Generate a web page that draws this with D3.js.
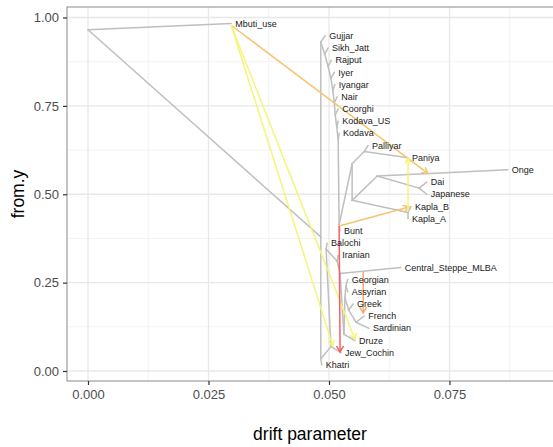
<!DOCTYPE html>
<html>
<head>
  <meta charset="UTF-8">
  <style>
    body { margin: 0; background: #fff; }
    svg { font-family: "Liberation Sans", Arial, sans-serif; }
  </style>
</head>
<body>
<svg></svg>
<script src="https://d3js.org/d3.v7.min.js"></script>
<script>

let width = 553, height = 447;

// tips, top to bottom, with their drift (x)
const tips = ["Mbuti_use", "Gujjar", "Sikh_Jatt", "Rajput", "Iyer", "Iyangar", "Nair", "Coorghi",
  "Kodava_US", "Kodava", "Palliyar", "Paniya", "Onge", "Dai", "Japanese", "Kapla_B", "Kapla_A",
  "Bunt", "Balochi", "Iranian", "Central_Steppe_MLBA", "Georgian", "Assyrian", "Greek", "French",
  "Sardinian", "Druze", "Jew_Cochin", "Khatri"];
const tipDrift = [0.0297, 0.0492, 0.0498, 0.0505, 0.0511, 0.0512, 0.0517, 0.0519,
  0.0519, 0.0521, 0.0581, 0.0664, 0.0871, 0.0703, 0.0703, 0.0670, 0.0664,
  0.0523, 0.0496, 0.0519, 0.0649, 0.0539, 0.0539, 0.0550, 0.0573,
  0.0583, 0.0554, 0.0525, 0.0485];

// internal nodes: first child is drawn above the second
const nodeNames = ["R", "N1", "C1", "C2", "C3", "C4", "C5", "C6", "C7", "C8", "C9", "W", "X", "PP",
  "Z", "OD", "DJ", "KK", "D1", "D2", "D3", "D4", "D5", "D6", "D7", "GA", "GFS", "FS"];
const nodeChildren = [["Mbuti_use", "N1"], ["C1", "D1"], ["Gujjar", "C2"], ["Sikh_Jatt", "C3"],
  ["Rajput", "C4"], ["Iyer", "C5"], ["Iyangar", "C6"], ["Nair", "C7"], ["Coorghi", "C8"],
  ["Kodava_US", "C9"], ["Kodava", "W"], ["X", "Bunt"], ["PP", "Z"], ["Palliyar", "Paniya"],
  ["OD", "KK"], ["Onge", "DJ"], ["Dai", "Japanese"], ["Kapla_B", "Kapla_A"],
  ["D2", "Khatri"], ["D3", "Jew_Cochin"], ["Balochi", "D4"], ["Iranian", "D5"],
  ["Central_Steppe_MLBA", "D6"], ["D7", "Druze"], ["GA", "GFS"], ["Georgian", "Assyrian"],
  ["Greek", "FS"], ["French", "Sardinian"]];
const nodeDrift = [0, 0.0483, 0.0483, 0.0491, 0.0498, 0.0504, 0.0508, 0.0511, 0.0513,
  0.0516, 0.0519, 0.0521, 0.0548, 0.0573, 0.0548, 0.0600, 0.0687, 0.0664,
  0.0483, 0.0504, 0.0494, 0.0517, 0.0523, 0.0531, 0.0533, 0.0535, 0.0541, 0.0556];

// migration edges
const migFromX = [0.0297, 0.0297, 0.0297, 0.0521, 0.0521, 0.0664, 0.0571];
const migFromY = [0.978, 0.978, 0.978, 0.410, 0.410, 0.452, 0.280];
const migToX   = [0.0705, 0.0508, 0.0554, 0.0666, 0.0523, 0.0664, 0.0571];
const migToY   = [0.559, 0.071, 0.090, 0.464, 0.054, 0.602, 0.164];
const migWeight = [0.3, 0.05, 0.05, 0.3, 0.6, 0.05, 0.38];

const xTicks = [0, 0.025, 0.05, 0.075];
const xMinor = [0.0125, 0.0375, 0.0625, 0.0875];
const yTicks = [0, 0.25, 0.5, 0.75, 1];
const yMinor = [0.125, 0.375, 0.625, 0.875];

// ---- layout of the tree (treemix style y coordinates)
let pos = {};
tips.forEach((t, i) => pos[t] = { x: tipDrift[i], tip: true });
nodeNames.forEach((n, i) => pos[n] = { x: nodeDrift[i], kids: nodeChildren[i] });

function countTips(n) {
  if (pos[n].tip) return 1;
  if (pos[n].count) return pos[n].count;
  pos[n].count = countTips(pos[n].kids[0]) + countTips(pos[n].kids[1]);
  return pos[n].count;
}
function setY(n, ymin, ymax) {
  if (pos[n].tip) { pos[n].y = (ymin + ymax) / 2; return; }
  let n1 = countTips(pos[n].kids[0]), n2 = countTips(pos[n].kids[1]);
  let yy = ymax - n1 / (n1 + n2) * (ymax - ymin);
  pos[n].y = yy;
  setY(pos[n].kids[0], yy, ymax);
  setY(pos[n].kids[1], ymin, yy);
}
setY("R", 0, 1);

let edges = [];
nodeNames.forEach((n, i) => nodeChildren[i].forEach(c => edges.push({ from: pos[n], to: pos[c] })));

let svg = d3.select("svg")
    .attr("width", width)
    .attr("height", height);

const pLeft = 67, pRight = 555, pTop = 7, pBottom = 381;

let x = d3.scaleLinear().domain([-0.004357, 0.09689]).range([pLeft, pRight]);
let y = d3.scaleLinear().domain([-0.0283, 1.0297]).range([pBottom, pTop]);

svg.append("rect").attr("width", width).attr("height", height).attr("fill", "#fff");

// grid
let grid = svg.append("g");
grid.selectAll(".xminor").data(xMinor).enter().append("line")
    .attr("x1", d => x(d)).attr("x2", d => x(d)).attr("y1", pTop).attr("y2", pBottom)
    .style("stroke", "#f3f3f3").style("stroke-width", 1);
grid.selectAll(".yminor").data(yMinor).enter().append("line")
    .attr("y1", d => y(d)).attr("y2", d => y(d)).attr("x1", pLeft).attr("x2", pRight)
    .style("stroke", "#f3f3f3").style("stroke-width", 1);
grid.selectAll(".xmajor").data(xTicks).enter().append("line")
    .attr("x1", d => x(d)).attr("x2", d => x(d)).attr("y1", pTop).attr("y2", pBottom)
    .style("stroke", "#e8e8e8").style("stroke-width", 1.3);
grid.selectAll(".ymajor").data(yTicks).enter().append("line")
    .attr("y1", d => y(d)).attr("y2", d => y(d)).attr("x1", pLeft).attr("x2", pRight)
    .style("stroke", "#e8e8e8").style("stroke-width", 1.3);

// tree
svg.append("g").selectAll("line").data(edges).enter().append("line")
    .attr("x1", d => x(d.from.x)).attr("y1", d => y(d.from.y))
    .attr("x2", d => x(d.to.x)).attr("y2", d => y(d.to.y))
    .style("stroke", "#bfbfbf").style("stroke-width", 1.5)
    .style("stroke-linecap", "round");

// migrations, coloured by weight
let migColor = d3.scaleLinear().domain([0, 0.3, 0.6]).range(["#f4ff78", "#f5c472", "#f46262"]);
let defs = svg.append("defs");
migWeight.forEach((w, i) => {
  defs.append("marker")
      .attr("id", "arr" + i)
      .attr("markerUnits", "userSpaceOnUse")
      .attr("markerWidth", 10).attr("markerHeight", 10)
      .attr("refX", 6).attr("refY", 3.5)
      .attr("orient", "auto")
      .append("path")
      .attr("d", "M0,0 L6,3.5 L0,7")
      .style("fill", "none")
      .style("stroke", migColor(w))
      .style("stroke-width", 1.5);
});
svg.append("g").selectAll("line").data(migWeight).enter().append("line")
    .attr("x1", (d, i) => x(migFromX[i])).attr("y1", (d, i) => y(migFromY[i]))
    .attr("x2", (d, i) => x(migToX[i])).attr("y2", (d, i) => y(migToY[i]))
    .style("stroke", d => migColor(d))
    .style("stroke-width", 1.5)
    .attr("marker-end", (d, i) => "url(#arr" + i + ")");

// tip labels
svg.append("g").selectAll("text").data(tips).enter().append("text")
    .attr("x", d => x(pos[d].x) + 4)
    .attr("y", d => y(pos[d].y))
    .attr("dy", "0.35em")
    .style("font-size", "9px")
    .style("fill", "#1a1a1a")
    .text(d => d);

// panel border
svg.append("rect")
    .attr("x", pLeft).attr("y", pTop)
    .attr("width", pRight - pLeft).attr("height", pBottom - pTop)
    .style("fill", "none").style("stroke", "#8a8a8a").style("stroke-width", 1);

// axes
let xAxis = svg.append("g").attr("transform", "translate(0," + pBottom + ")")
    .call(d3.axisBottom(x).tickValues(xTicks).tickFormat(d3.format(".3f")).tickSize(4).tickPadding(5));
let yAxis = svg.append("g").attr("transform", "translate(" + pLeft + ",0)")
    .call(d3.axisLeft(y).tickValues(yTicks).tickFormat(d3.format(".2f")).tickSize(4).tickPadding(4));
[xAxis, yAxis].forEach(a => {
  a.select(".domain").remove();
  a.selectAll(".tick line").style("stroke", "#333").style("stroke-width", 1.2);
  a.selectAll(".tick text").style("fill", "#4d4d4d").style("font-size", "13px")
      .style("font-family", "Liberation Sans, Arial, sans-serif");
});

svg.append("text")
    .attr("x", (pLeft + 553) / 2).attr("y", 440)
    .attr("text-anchor", "middle")
    .style("font-size", "17.5px")
    .text("drift parameter");

svg.append("text")
    .attr("transform", "translate(24," + ((pTop + pBottom) / 2) + ") rotate(-90)")
    .attr("text-anchor", "middle")
    .style("font-size", "17.5px")
    .text("from.y");

</script>
</body>
</html>
